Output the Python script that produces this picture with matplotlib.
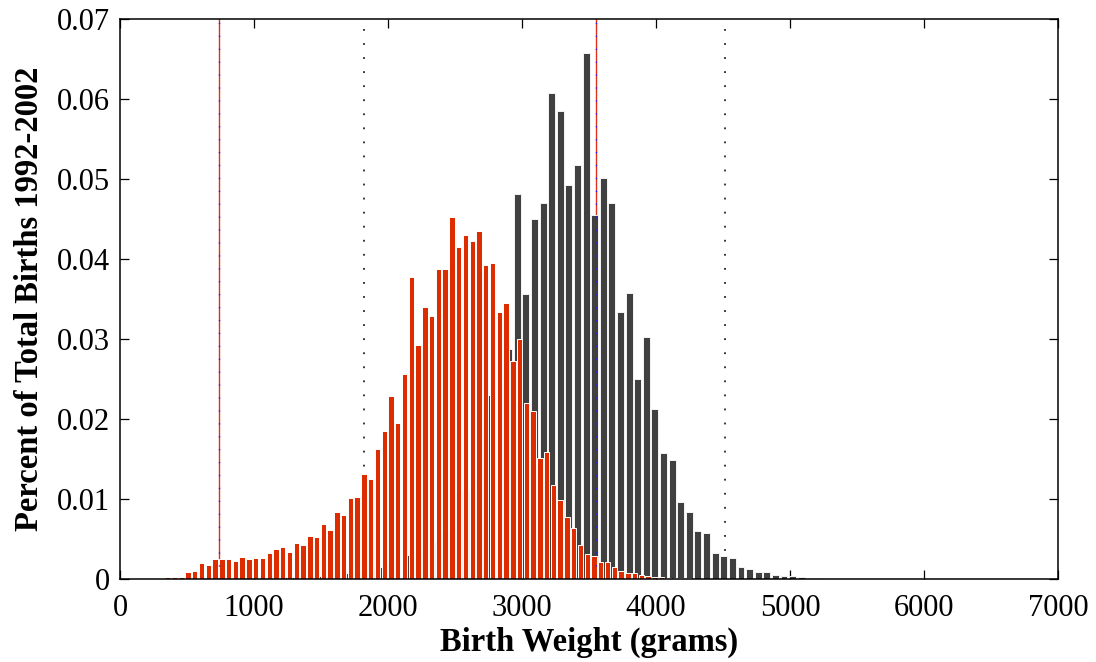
import matplotlib
matplotlib.use("Agg")
import matplotlib.pyplot as plt
import numpy as np

# ---------------- data ----------------
# Gray histogram: 100 bins of equal width starting at gray_start (grams)
gray_start = 172.0
gray_binw = 64.2
gray_heights = [
    0, 0, 0, 0, 0, 0, 0, 0, 0, 0,
    0.00005, 0.00005, 0.0001, 0.0001, 0.0001, 0.00015, 0.0002, 0.0002, 0.0003, 0.0003,
    0.0004, 0.0005, 0.0006, 0.0008, 0.0009, 0.0011, 0.0013, 0.0015, 0.0021, 0.0025,
    0.0030, 0.0035, 0.0034, 0.0045, 0.0061, 0.0063, 0.0108, 0.0110, 0.0124, 0.0182,
    0.0230, 0.0247, 0.0288, 0.0481, 0.0356, 0.0450, 0.0470, 0.0608, 0.0585, 0.0492,
    0.0517, 0.0658, 0.0455, 0.0501, 0.0470, 0.0334, 0.0358, 0.0250, 0.0302, 0.0212,
    0.0158, 0.0149, 0.0096, 0.0084, 0.0060, 0.0058, 0.0033, 0.0029, 0.0026, 0.00146,
    0.0013, 0.00084, 0.00084, 0.0005, 0.00033, 0.00033, 0.0002, 0.0001, 0.0001, 0.00005,
    0.00003, 0.00003, 0.00003, 0.00003, 0.00003, 0.00003, 0.00003, 0.00003, 0.00003, 0.00003,
    0.00003, 0.00003, 0.00003, 0.00003, 0.00003, 0.00003, 0.00003, 0.00003, 0.00003, 0.00003,
]

# Red histogram: bins of equal width, first bin centred at red_first_center (grams)
red_first_center = 356.0
red_binw = 50.5
red_heights = [
    0.00025, 0.0003, 0.00025, 0.00084, 0.00104, 0.00196, 0.00179, 0.0025, 0.0025, 0.0025,
    0.0023, 0.0027, 0.0025, 0.0026, 0.0026, 0.0032, 0.0038, 0.0040, 0.0034, 0.0045,
    0.0043, 0.0054, 0.0052, 0.0069, 0.0061, 0.0084, 0.0080, 0.0101, 0.0103, 0.0131,
    0.0125, 0.0162, 0.0185, 0.0229, 0.0195, 0.0256, 0.03775, 0.02925, 0.0340, 0.0329,
    0.0388, 0.0388, 0.04525, 0.0415, 0.0430, 0.0423, 0.0435, 0.03925, 0.0395, 0.0334,
    0.0345, 0.0273, 0.0300, 0.0220, 0.0210, 0.0151, 0.0159, 0.0118, 0.0099, 0.00775,
    0.0064, 0.0042, 0.0031, 0.0029, 0.0021, 0.0021, 0.00146, 0.00096, 0.0008, 0.0007,
    0.00054, 0.00038, 0.0003, 0.0002, 0.00015, 0.0001, 0.0001, 0.00008, 0.00005, 0.00005,
]

# reference lines (grams)
red_lines = [739, 3553]
dotted_lines = [1819, 4517]

xticks = [0, 1000, 2000, 3000, 4000, 5000, 6000, 7000]
yticks = [0, 0.01, 0.02, 0.03, 0.04, 0.05, 0.06, 0.07]
ytick_labels = ["0", "0.01", "0.02", "0.03", "0.04", "0.05", "0.06", "0.07"]
xlabel = "Birth Weight (grams)"
ylabel = "Percent of Total Births 1992-2002"

# ---------------- plot ----------------
plt.rcParams['font.family'] = ['Liberation Serif', 'DejaVu Serif']

W, H = 1096, 662
fig = plt.figure(figsize=(W / 100, H / 100), dpi=100)
ax = fig.add_axes([120 / W, 1 - 579 / H, (1058 - 120) / W, (579 - 19) / H])

gray_centers = gray_start + gray_binw * (np.arange(len(gray_heights)) + 0.5)
red_centers = red_first_center + red_binw * np.arange(len(red_heights))

GRAY = '#404040'
RED = '#DC2C00'

ax.bar(gray_centers, gray_heights, width=0.8 * gray_binw, color=GRAY,
       edgecolor='#f4f4f4', linewidth=0.7, zorder=2)
ax.bar(red_centers, red_heights, width=0.8 * red_binw, color=RED,
       edgecolor='white', linewidth=0.7, zorder=3)

for xv in red_lines:
    ax.axvline(xv, color='#e0301e', lw=1.0, zorder=1)
    ax.axvline(xv, color='#1a1aff', lw=1.0, dashes=(0.9, 8.4), zorder=4)
for xv in dotted_lines:
    ax.axvline(xv, color='black', lw=1.1, dashes=(1.2, 8.0), zorder=1)

ax.set_xlim(0, 7000)
ax.set_ylim(0, 0.07)
ax.set_xticks(xticks)
ax.set_xticklabels([str(v) for v in xticks])
ax.set_yticks(yticks)
ax.set_yticklabels(ytick_labels)
ax.set_axisbelow(True)

ax.tick_params(axis='both', which='both', direction='in', length=6.5, width=0.9,
               top=True, right=True, labelsize=22)
ax.tick_params(axis='x', pad=11)
ax.tick_params(axis='y', pad=7)

for s in ax.spines.values():
    s.set_linewidth(1.1)
    s.set_zorder(10)

ax.set_xlabel(xlabel, fontsize=23.5, fontweight='bold')
ax.xaxis.label.set_va('center')
ax.xaxis.set_label_coords(0.5, (579 - 642) / 560)
ax.set_ylabel(ylabel, fontsize=23.5, fontweight='bold')
ax.yaxis.label.set_va('center')
ax.yaxis.set_label_coords((30 - 120) / 938, 0.5)

fig.savefig('out.png', dpi=100)
